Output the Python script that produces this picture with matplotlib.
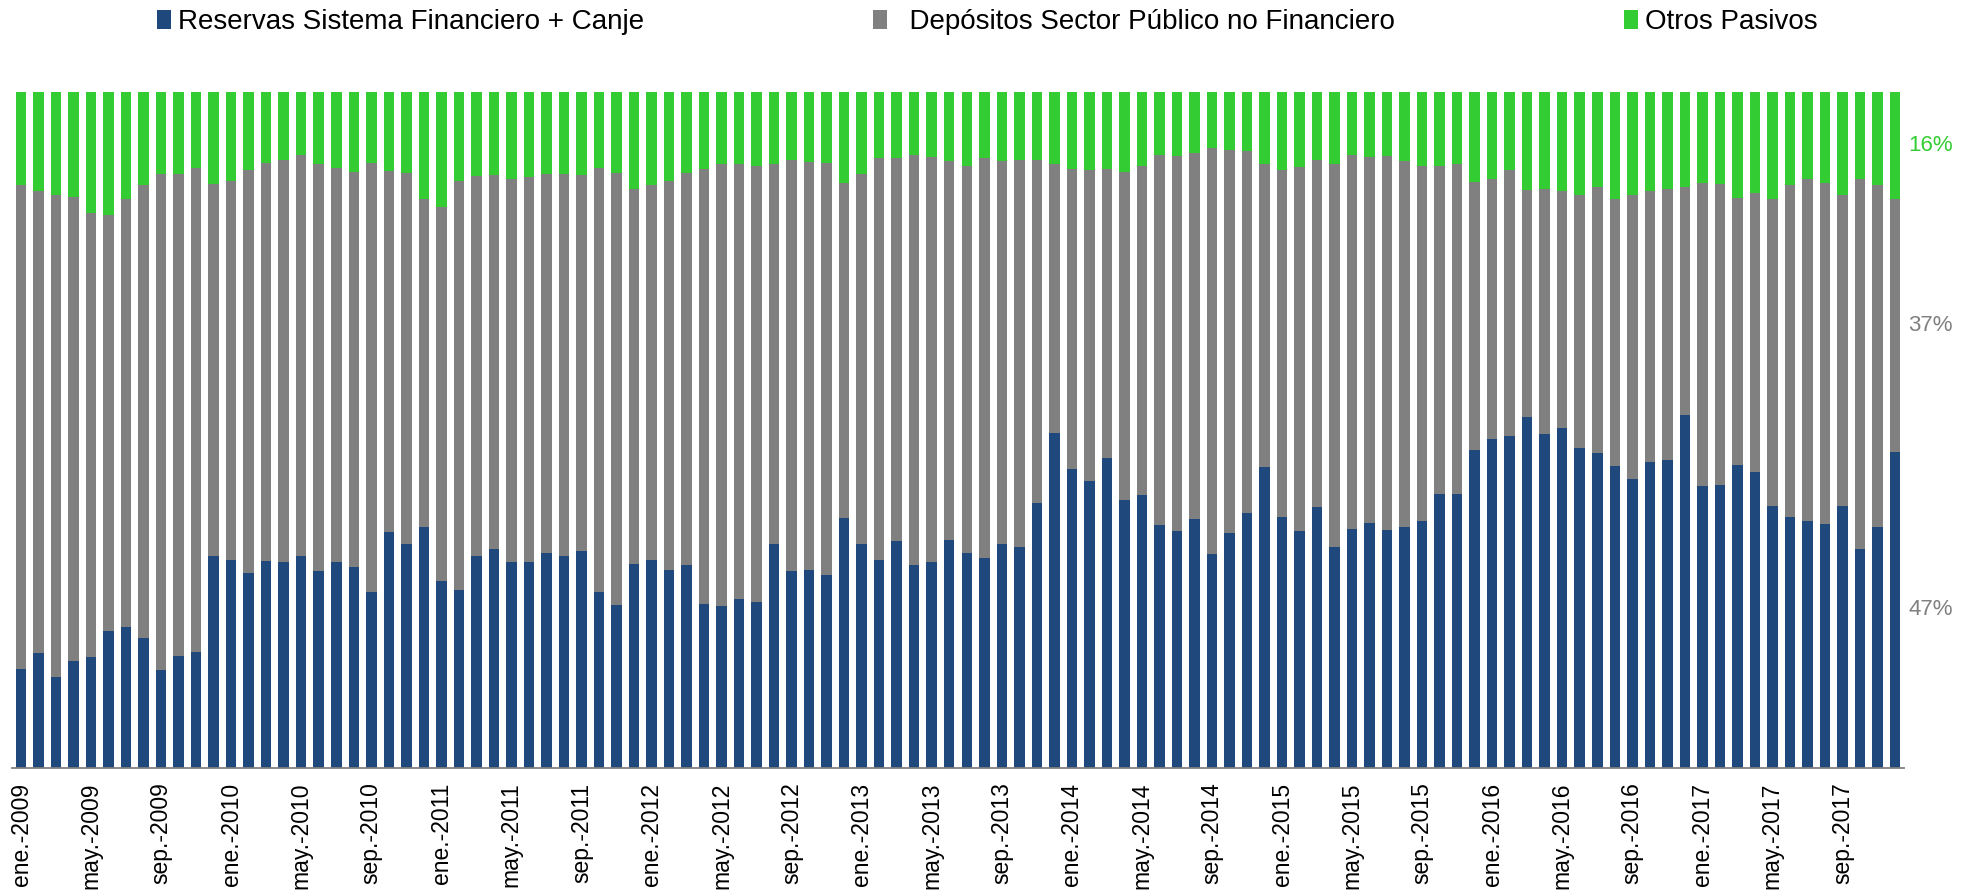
import matplotlib
matplotlib.use("Agg")
import matplotlib.pyplot as plt
import numpy as np

plt.rcParams['font.family'] = ['Liberation Sans', 'DejaVu Sans']

meses = ['ene.', 'feb.', 'mar.', 'abr.', 'may.', 'jun.',
         'jul.', 'ago.', 'sep.', 'oct.', 'nov.', 'dic.']
anios = list(range(2009, 2018))
fechas = [f"{m}-{a}" for a in anios for m in meses]

# participacion (%) de cada componente, lectura del grafico
reservas = [
    14.6, 17.0, 13.5, 15.9, 16.4, 20.2, 20.8, 19.2, 14.5, 16.5, 17.1, 31.4,
    30.8, 28.8, 30.6, 30.5, 31.4, 29.2, 30.4, 29.8, 26.1, 34.9, 33.2, 35.6,
    27.7, 26.3, 31.4, 32.4, 30.4, 30.4, 31.8, 31.3, 32.1, 26.0, 24.1, 30.2,
    30.7, 29.3, 30.1, 24.3, 24.0, 25.0, 24.5, 33.1, 29.2, 29.3, 28.5, 37.0,
    33.2, 30.8, 33.6, 30.0, 30.4, 33.8, 31.8, 31.1, 33.1, 32.7, 39.2, 49.5,
    44.3, 42.5, 45.8, 39.6, 40.4, 36.0, 35.0, 36.9, 31.6, 34.8, 37.7, 44.5,
    37.2, 35.1, 38.6, 32.7, 35.4, 36.2, 35.2, 35.6, 36.6, 40.5, 40.6, 47.0,
    48.6, 49.1, 51.9, 49.4, 50.3, 47.3, 46.6, 44.7, 42.8, 45.3, 45.6, 52.2,
    41.7, 41.9, 44.8, 43.8, 38.8, 37.2, 36.6, 36.1, 38.8, 32.4, 35.6, 46.8,
]
depositos = [
    71.6, 68.3, 71.3, 68.6, 65.7, 61.6, 63.3, 67.1, 73.4, 71.3, 71.7, 55.0,
    56.0, 59.7, 58.9, 59.4, 59.3, 60.1, 58.3, 58.4, 63.4, 53.4, 54.8, 48.6,
    55.3, 60.5, 56.1, 55.3, 56.7, 57.0, 56.0, 56.5, 55.6, 62.7, 63.9, 55.5,
    55.6, 57.5, 57.9, 64.3, 65.3, 64.4, 64.5, 56.2, 60.8, 60.3, 61.0, 49.6,
    54.7, 59.4, 56.7, 60.7, 60.0, 56.0, 57.3, 59.2, 56.7, 57.3, 50.7, 39.8,
    44.3, 46.0, 42.8, 48.6, 48.6, 54.7, 55.5, 54.1, 60.1, 56.6, 53.6, 44.8,
    51.3, 53.8, 51.4, 56.7, 55.3, 54.2, 55.4, 54.2, 52.5, 48.5, 48.8, 39.7,
    38.5, 39.4, 33.6, 36.3, 35.1, 37.4, 39.4, 39.5, 42.0, 40.1, 40.1, 33.7,
    44.8, 44.5, 39.5, 41.2, 45.4, 49.1, 50.5, 50.4, 45.9, 54.8, 50.6, 37.3,
]
otros = [
    13.8, 14.7, 15.2, 15.5, 17.9, 18.2, 15.9, 13.7, 12.1, 12.2, 11.2, 13.6,
    13.2, 11.5, 10.5, 10.1, 9.3, 10.7, 11.3, 11.8, 10.5, 11.7, 12.0, 15.8,
    17.0, 13.2, 12.5, 12.3, 12.9, 12.6, 12.2, 12.2, 12.3, 11.3, 12.0, 14.3,
    13.7, 13.2, 12.0, 11.4, 10.7, 10.6, 11.0, 10.7, 10.0, 10.4, 10.5, 13.4,
    12.1, 9.8, 9.7, 9.3, 9.6, 10.2, 10.9, 9.7, 10.2, 10.0, 10.1, 10.7,
    11.4, 11.5, 11.4, 11.8, 11.0, 9.3, 9.5, 9.0, 8.3, 8.6, 8.7, 10.7,
    11.5, 11.1, 10.0, 10.6, 9.3, 9.6, 9.4, 10.2, 10.9, 11.0, 10.6, 13.3,
    12.9, 11.5, 14.5, 14.3, 14.6, 15.3, 14.0, 15.8, 15.2, 14.6, 14.3, 14.1,
    13.5, 13.6, 15.7, 15.0, 15.8, 13.7, 12.9, 13.5, 15.3, 12.8, 13.8, 15.9,
]

AZUL = '#1F497D'
GRIS = '#808080'
VERDE = '#33CC33'

W, H = 1981, 896
fig = plt.figure(figsize=(W / 100, H / 100), dpi=100)
ax = fig.add_axes([12.25 / W, (H - 768) / H, (1903.75 - 12.25) / W, (768 - 92) / H])

x = np.arange(len(fechas))
res = np.array(reservas)
dep = np.array(depositos)
otr = np.array(otros)

b1 = ax.bar(x, res, width=0.6, color=AZUL, label='Reservas Sistema Financiero + Canje')
b2 = ax.bar(x, dep, width=0.6, bottom=res, color=GRIS, label='  Depósitos Sector Público no Financiero')
b3 = ax.bar(x, otr, width=0.6, bottom=res + dep, color=VERDE, label='Otros Pasivos')

ax.set_xlim(-0.5, len(fechas) - 0.5)
ax.set_ylim(0, 100)

ax.set_xticks(x[::4])
ax.set_xticklabels(fechas[::4], rotation=90, fontsize=16.5, va='top', ha='center')
ax.tick_params(axis='x', length=0, pad=10.5)
ax.set_yticks([])
for lado in ['top', 'right', 'left']:
    ax.spines[lado].set_visible(False)
ax.spines['bottom'].set_color(GRIS)
ax.spines['bottom'].set_linewidth(1.3)

# etiquetas del ultimo mes
xl = x[-1] + 0.77
ult_r, ult_d, ult_o = res[-1], dep[-1], otr[-1]
ax.text(xl, ult_r + ult_d + ult_o / 2, f"{ult_o:.0f}%", color=VERDE, fontsize=16,
        va='center', ha='left', clip_on=False)
ax.text(xl, ult_r + ult_d / 2, f"{ult_d:.0f}%", color=GRIS, fontsize=16,
        va='center', ha='left', clip_on=False)
ax.text(xl, ult_r / 2, f"{ult_r:.0f}%", color=GRIS, fontsize=16,
        va='center', ha='left', clip_on=False)

fig.legend(handles=[b1, b2, b3], loc='center', bbox_to_anchor=(987 / W, 1 - 22 / H),
           ncol=3, frameon=False, fontsize=20, handlelength=0.5, handleheight=0.7,
           handletextpad=0.25, columnspacing=8.25, borderpad=0)

fig.savefig('out.png', dpi=100)
